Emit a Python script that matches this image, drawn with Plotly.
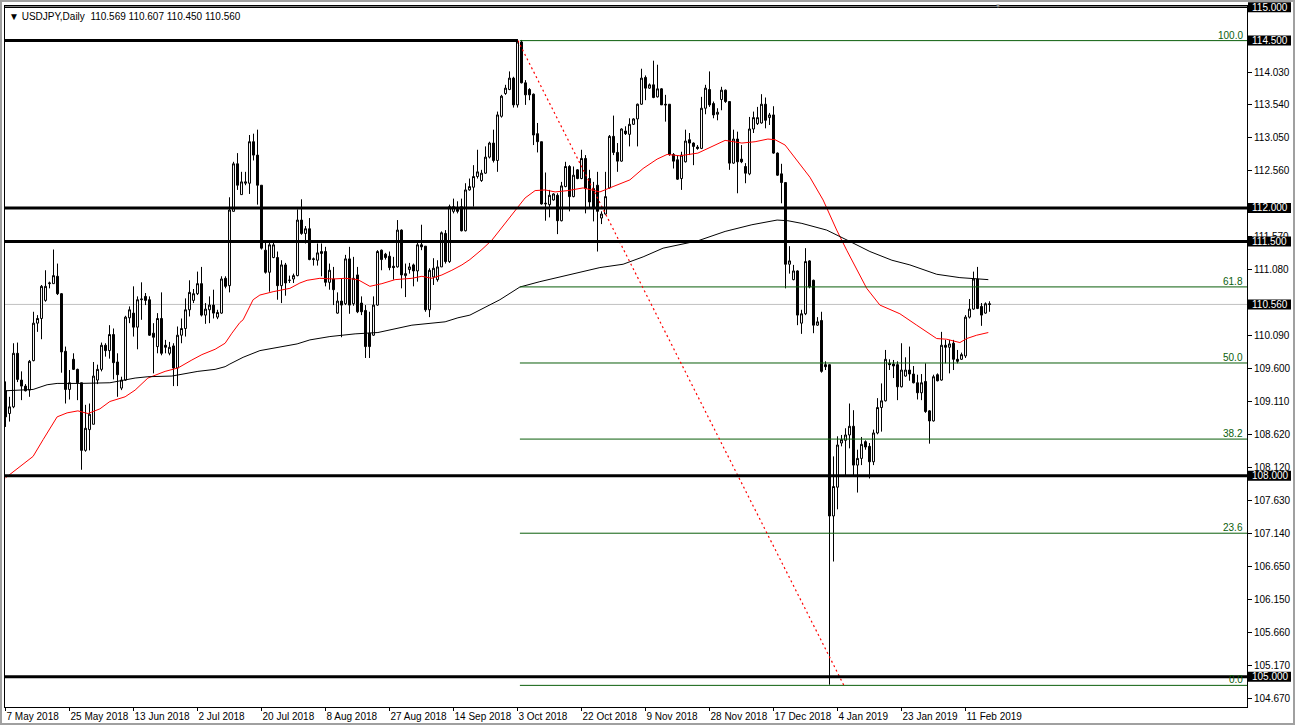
import plotly.graph_objects as go

# ---------------- data ----------------
bar_index = list(range(247))

opens = [109.27,108.93,109.03,109.83,109.43,109.34,109.28,109.72,110.28,110.35,
         110.62,110.87,110.87,110.98,110.72,109.86,109.29,109.74,109.59,109.39,
         108.38,108.69,108.77,109.43,109.59,109.95,109.87,110.11,109.70,109.31,
         109.43,110.36,110.43,110.22,110.63,110.68,110.63,110.13,109.93,110.35,
         109.95,109.83,109.94,109.61,110.10,110.20,110.48,110.62,110.72,110.87,
         110.40,110.48,110.55,110.37,110.43,110.95,110.84,111.95,112.66,112.20,
         112.37,112.37,112.99,112.79,112.34,111.37,111.04,111.26,111.26,110.84,
         111.15,110.92,110.94,110.99,111.82,111.62,111.69,111.23,111.22,111.32,
         111.35,110.89,110.94,110.43,110.61,110.57,111.24,110.57,111.00,110.58,
         110.47,110.13,110.10,110.55,111.37,111.31,111.28,111.13,111.12,111.67,
         110.99,111.08,111.15,111.06,111.45,111.43,110.48,110.97,110.93,111.12,
         111.62,111.20,111.95,111.98,112.02,111.66,112.27,112.31,112.47,112.41,
         112.52,112.76,112.97,112.71,113.37,113.71,113.77,113.94,113.54,114.48,
         113.87,113.77,113.70,113.11,112.99,112.06,112.05,112.12,112.19,111.81,
         112.32,112.62,112.17,112.57,112.44,112.74,112.44,112.29,112.34,111.85,
         111.91,112.30,113.07,112.83,112.70,113.15,113.10,113.25,113.33,113.55,
         113.95,113.79,113.84,113.66,113.78,113.55,113.55,112.80,112.72,112.44,
         112.69,113.02,112.97,112.91,112.89,113.49,113.77,113.56,113.40,113.62,
         113.76,113.59,112.67,113.03,112.73,112.62,112.51,113.18,113.26,113.27,
         113.55,113.35,113.39,112.82,112.51,112.38,111.16,110.93,111.06,110.28,
         110.42,111.21,110.92,110.25,110.32,109.66,109.66,107.40,107.83,108.49,
         108.53,108.61,108.74,108.16,108.26,108.51,108.44,108.21,108.64,109.02,
         109.12,109.68,109.67,109.66,109.33,109.49,109.58,109.52,109.39,109.24,
         109.41,108.97,108.82,109.51,109.43,109.95,109.92,109.98,109.74,109.74,
         109.79,110.37,110.49,110.94,110.53,110.43,110.569]
highs = [109.41,109.18,109.98,109.99,109.56,109.37,109.73,110.45,110.40,110.85,
         111.07,110.90,111.38,111.17,110.73,109.93,109.58,109.83,109.60,109.39,
         109.06,109.08,109.70,109.66,109.99,109.98,110.25,110.20,109.83,109.48,
         110.39,110.53,110.83,110.68,110.89,110.73,110.68,110.28,110.43,110.74,
         110.03,110.00,109.98,110.23,110.35,110.65,110.92,110.79,111.05,111.12,
         110.58,110.68,110.78,110.48,110.98,110.98,112.16,112.69,112.82,112.54,
         112.54,113.09,113.11,113.17,112.34,111.50,111.52,111.50,111.35,111.22,
         111.18,110.99,111.02,111.98,112.13,111.73,111.85,111.26,111.47,111.47,
         111.42,111.17,111.12,110.74,110.95,111.30,111.42,111.27,111.12,110.68,
         110.55,110.45,110.68,111.37,111.38,111.33,111.35,111.27,111.82,111.68,
         111.17,111.18,111.17,111.50,111.75,111.43,111.10,111.25,111.22,111.65,
         111.67,112.05,112.14,112.10,112.14,112.37,112.44,112.64,112.87,112.57,
         112.92,112.99,113.17,113.44,113.69,113.84,114.04,113.96,114.52,114.51,
         113.91,113.79,113.71,113.27,112.99,112.53,112.27,112.22,112.22,112.39,
         112.69,112.64,112.62,112.58,112.87,112.79,112.57,112.39,112.54,111.95,
         112.54,113.09,113.38,112.97,113.19,113.22,113.34,113.34,113.56,114.08,
         113.98,113.86,114.20,114.14,113.79,113.69,113.55,112.82,112.79,112.84,
         113.17,113.12,112.98,112.94,113.66,113.84,114.04,113.59,113.49,113.81,
         113.77,113.59,113.17,113.14,112.94,112.67,113.36,113.44,113.51,113.70,
         113.65,113.42,113.52,112.83,112.66,112.38,111.43,111.15,111.07,110.48,
         111.40,111.22,110.93,110.37,110.45,109.71,109.66,108.29,108.59,108.61,
         108.71,109.08,108.98,108.39,108.58,108.53,108.49,108.69,109.16,109.38,
         109.88,109.74,109.73,109.71,109.98,109.77,109.93,109.64,109.51,109.52,
         109.68,108.98,109.51,109.53,110.15,110.03,110.03,110.03,109.88,109.84,
         110.40,110.64,111.05,111.12,110.58,110.59,110.607]
lows = [108.73,108.81,109.01,109.40,109.13,109.26,109.18,109.71,110.15,110.04,
        110.60,110.80,110.87,110.70,109.54,109.08,109.14,109.58,109.13,108.09,
        108.36,108.38,108.77,109.37,109.56,109.78,109.75,109.44,109.18,109.28,
        109.42,110.28,110.08,109.89,110.33,110.55,110.09,109.53,109.83,109.80,
        109.83,109.80,109.34,109.34,109.98,110.08,110.38,110.58,110.70,110.38,
        110.27,110.28,110.35,110.34,110.42,110.80,110.74,111.95,112.27,112.20,
        112.34,112.21,112.71,112.05,111.38,111.02,110.75,111.25,110.63,110.58,
        110.69,110.88,110.88,110.98,111.60,111.47,111.22,111.14,111.14,110.98,
        110.83,110.78,110.55,110.42,110.07,110.55,110.42,110.54,110.43,110.40,
        109.76,109.76,110.09,110.54,111.07,111.23,111.07,110.93,111.11,110.80,
        110.67,111.02,110.83,110.90,111.37,110.45,110.37,110.85,110.90,111.12,
        111.17,111.18,111.92,111.92,111.65,111.65,112.26,112.02,112.44,112.39,
        112.51,112.74,112.68,112.54,113.35,113.69,113.76,113.50,113.50,113.86,
        113.54,113.61,112.94,112.83,112.05,111.81,111.86,112.11,111.61,111.80,
        112.31,111.95,112.16,112.43,112.43,111.92,111.99,111.80,111.35,111.76,
        111.90,112.29,112.79,112.54,112.69,113.09,112.92,113.24,112.92,113.54,
        113.61,113.78,113.64,113.65,113.54,113.29,112.78,112.59,112.42,112.27,
        112.68,112.79,112.64,112.87,112.88,113.40,113.51,113.34,113.31,113.46,
        113.57,112.57,112.66,112.22,112.67,112.37,112.49,113.12,113.24,113.26,
        113.19,113.24,112.81,112.48,112.07,110.80,111.02,110.92,110.25,110.12,
        110.40,110.80,110.13,110.24,109.54,109.58,104.88,106.72,107.50,108.44,
        108.01,108.41,107.99,107.75,108.16,108.39,107.96,108.16,108.62,108.66,
        109.11,109.58,109.46,109.13,109.32,109.48,109.42,109.38,109.14,109.13,
        108.94,108.48,108.81,109.41,109.42,109.68,109.53,109.58,109.68,109.73,
        109.76,110.35,110.48,110.49,110.24,110.42,110.450]
closes = [108.88,109.03,109.83,109.44,109.34,109.27,109.71,110.28,110.35,110.83,
          110.83,110.88,110.99,110.72,109.85,109.29,109.39,109.59,109.39,108.38,
          108.71,108.92,109.49,109.59,109.95,109.87,110.11,109.69,109.51,109.43,
          110.37,110.48,110.22,110.63,110.64,110.62,110.10,110.07,110.35,109.83,
          109.92,109.92,109.61,110.10,110.20,110.48,110.74,110.72,110.87,110.40,
          110.49,110.55,110.43,110.44,110.94,110.83,111.97,112.66,112.34,112.39,
          112.39,112.99,112.79,112.34,111.40,111.04,111.45,111.45,110.84,111.15,
          110.88,110.92,110.99,111.82,111.62,111.69,111.23,111.24,111.33,111.35,
          110.89,111.07,110.78,110.61,110.55,111.24,110.55,110.95,110.45,110.45,
          109.93,109.93,110.55,111.35,111.23,111.26,111.11,111.11,111.67,111.00,
          111.02,111.12,111.06,111.45,111.42,110.48,111.07,111.10,111.12,111.63,
          111.20,112.02,112.02,111.95,111.66,112.27,112.32,112.47,112.54,112.52,
          112.76,112.97,112.71,113.39,113.67,113.79,113.94,113.54,114.48,113.87,
          113.69,113.69,113.09,112.99,112.06,112.07,112.19,112.21,111.81,112.33,
          112.62,112.17,112.49,112.44,112.74,112.29,112.09,111.99,111.95,111.91,
          112.17,113.07,112.83,112.70,113.18,113.11,113.25,113.33,113.55,113.94,
          113.79,113.84,113.65,113.78,113.54,113.54,112.80,112.70,112.43,112.79,
          113.00,112.97,112.92,112.89,113.49,113.79,113.54,113.39,113.43,113.76,
          113.59,112.67,113.03,112.69,112.69,112.52,113.18,113.35,113.35,113.55,
          113.31,113.39,112.82,112.49,112.38,111.16,111.21,111.06,110.40,110.42,
          111.20,110.82,110.25,110.30,109.56,109.63,107.40,107.84,108.46,108.54,
          108.61,108.74,108.16,108.26,108.47,108.43,108.21,108.64,109.02,109.12,
          109.74,109.66,109.64,109.33,109.58,109.58,109.52,109.39,109.24,109.39,
          108.96,108.82,109.48,109.42,109.95,109.92,109.97,109.74,109.71,109.81,
          110.37,110.49,110.94,110.50,110.40,110.57,110.560]

tick_bars = [0, 16, 32, 48, 64, 80, 96, 112, 128, 144, 160, 176, 192, 208, 224, 240]
tick_labels = ["7 May 2018", "25 May 2018", "13 Jun 2018", "2 Jul 2018", "20 Jul 2018",
               "8 Aug 2018", "27 Aug 2018", "14 Sep 2018", "3 Oct 2018", "22 Oct 2018",
               "9 Nov 2018", "28 Nov 2018", "17 Dec 2018", "4 Jan 2019", "23 Jan 2019",
               "11 Feb 2019"]

ma50_bar = [0, 1.5, 6.9, 9.4, 12.9, 15.4, 18.1, 20.6, 23.6, 26.1, 29.9, 32.4, 35.6, 39.9,
            43.1, 46.6, 49.1, 52.4, 54.9, 56.6, 58.6, 59.4, 61.9, 63.6, 66.9, 71.1, 73.6,
            75.4, 78.6, 81.9, 84.9, 88.1, 91.1, 94.1, 97.4, 101.6, 104.1, 106.6, 109.1,
            111.6, 114.1, 116.1, 119.1, 121.6, 124.9, 127.4, 129.9, 132.4, 134.9, 137.4,
            140.6, 144.4, 148.6, 151.9, 156.1, 159.4, 162.9, 165.4, 168.6, 173.1, 176.6,
            179.9, 184.1, 187.4, 190.6, 192.4, 194.9, 197.4, 201.1, 204.4, 207.8, 210.3,
            213.6, 215.3, 218.6, 223.6, 227.8, 230.3, 232.8, 235.3, 238.6, 240.3, 242.8,
            245.7]
ma50_val = [107.97, 108.04, 108.29, 108.54, 108.88, 108.94, 108.97, 108.93, 109.00, 109.11,
            109.18, 109.28, 109.46, 109.56, 109.61, 109.73, 109.81, 109.89, 109.98, 110.13,
            110.29, 110.33, 110.63, 110.70, 110.75, 110.80, 110.88, 110.92, 110.95, 110.94,
            110.95, 110.93, 110.83, 110.87, 110.93, 110.95, 110.98, 110.95, 111.00, 111.07,
            111.15, 111.23, 111.38, 111.52, 111.77, 111.97, 112.15, 112.26, 112.27, 112.24,
            112.26, 112.30, 112.24, 112.32, 112.42, 112.59, 112.73, 112.80, 112.78, 112.82,
            112.92, 113.01, 112.97, 112.99, 113.03, 113.02, 112.94, 112.74, 112.46, 112.12,
            111.67, 111.37, 110.98, 110.80, 110.55, 110.42, 110.25, 110.15, 110.05, 110.04,
            109.99, 110.05, 110.10, 110.14]

ma200_bar = [0, 3.6, 6.9, 10.4, 12.9, 18.6, 22.9, 26.1, 32.4, 35.6, 41.6, 44.9, 48.1, 52.4,
             54.9, 56.1, 59.4, 63.6, 68.6, 72.9, 76.1, 81.1, 87.4, 93.1, 101.6, 109.9, 113.1,
             116.1, 123.6, 128.6, 133.6, 138.6, 143.6, 148.6, 154.4, 159.4, 164.4, 170.4,
             173.1, 179.9, 186.6, 192.9, 195.6, 199.1, 205.3, 211.1, 216.1, 221.6, 226.1,
             232.8, 238.6, 245.7]
ma200_val = [109.27, 109.28, 109.29, 109.36, 109.38, 109.38, 109.38, 109.39, 109.46, 109.48,
             109.49, 109.53, 109.56, 109.59, 109.63, 109.67, 109.77, 109.87, 109.92, 109.97,
             110.03, 110.08, 110.12, 110.14, 110.25, 110.30, 110.36, 110.40, 110.63, 110.82,
             110.90, 110.97, 111.05, 111.11, 111.16, 111.27, 111.40, 111.47, 111.51, 111.65,
             111.75, 111.82, 111.81, 111.77, 111.67, 111.50, 111.35, 111.22, 111.15, 111.01,
             110.96, 110.93]

full_levels = [112.0, 111.5, 108.0, 105.0]
high_level = 114.5
high_level_end_bar = 128.1
top_level = 115.0
current_price = 110.560

fib_high = 114.50
fib_low = 104.87
fib_start_bar = 128.6
fib_trend_bars = [128.1, 209.6]
fib_ratios = [0.0, 23.6, 38.2, 50.0, 61.8, 100.0]

axis_ticks = [114.03, 113.54, 113.05, 112.56, 111.57, 111.08, 110.09,
              109.60, 109.11, 108.62, 108.12, 107.63, 107.14, 106.65, 106.15, 105.66,
              105.17, 104.67]
boxed_labels = [115.0, 114.5, 112.0, 111.5, 110.56, 108.0, 105.0]

header = "USDJPY,Daily  110.569 110.607 110.450 110.560"

# ---------------- figure ----------------
X_MIN, X_MAX = -0.125, 310.375
Y_MIN, Y_MAX = 104.547, 115.017
FONT = "Liberation Sans, Arial, sans-serif"
FIB_GREEN = "#0b5e0b"

fig = go.Figure()

fig.add_trace(go.Candlestick(
    x=bar_index, open=opens, high=highs, low=lows, close=closes,
    increasing=dict(line=dict(color="black", width=1), fillcolor="white"),
    decreasing=dict(line=dict(color="black", width=1), fillcolor="black"),
    whiskerwidth=0, hoverinfo="skip", showlegend=False,
))
fig.add_trace(go.Scatter(x=ma50_bar, y=ma50_val, mode="lines",
                         line=dict(color="#ff0000", width=1), hoverinfo="skip", showlegend=False))
fig.add_trace(go.Scatter(x=ma200_bar, y=ma200_val, mode="lines",
                         line=dict(color="black", width=1), hoverinfo="skip", showlegend=False))

shapes = []
shapes.append(dict(type="line", xref="x", yref="y", x0=X_MIN, x1=X_MAX,
                   y0=current_price, y1=current_price, layer="below",
                   line=dict(color="#c0c0c0", width=1)))
shapes.append(dict(type="line", xref="x", yref="y", x0=X_MIN, x1=X_MAX,
                   y0=top_level, y1=top_level, line=dict(color="black", width=1.5)))
for r in fib_ratios:
    p = fib_low + (fib_high - fib_low) * r / 100.0
    shapes.append(dict(type="line", xref="x", yref="y", x0=fib_start_bar, x1=X_MAX,
                       y0=p, y1=p, line=dict(color=FIB_GREEN, width=1)))
shapes.append(dict(type="line", xref="x", yref="y", x0=fib_trend_bars[0], x1=fib_trend_bars[1],
                   y0=fib_high, y1=fib_low, line=dict(color="#ff0000", width=1.2, dash="2px,3px")))
for p in full_levels:
    shapes.append(dict(type="line", xref="x", yref="y", x0=X_MIN, x1=X_MAX,
                       y0=p, y1=p, line=dict(color="black", width=3)))
shapes.append(dict(type="line", xref="x", yref="y", x0=X_MIN, x1=high_level_end_bar,
                   y0=high_level, y1=high_level, line=dict(color="black", width=3)))

# boxed price labels on the right axis (paper coordinates so they are not clipped)
PLOT_H = 701.0
x_box0 = (1248 - 5) / 1242.0
x_box1 = (1291 - 5) / 1242.0
for p in boxed_labels:
    yc = (p - Y_MIN) / (Y_MAX - Y_MIN)
    shapes.append(dict(type="rect", xref="paper", yref="paper", x0=x_box0, x1=x_box1,
                       y0=yc - 5 / PLOT_H, y1=yc + 5 / PLOT_H, fillcolor="black",
                       line=dict(width=0), layer="above"))
shapes.append(dict(type="rect", xref="paper", yref="paper",
                   x0=(1 - 5) / 1242.0, x1=(1294 - 5) / 1242.0,
                   y0=(707 - 724) / PLOT_H, y1=(707 - 1) / PLOT_H,
                   line=dict(color="#a0a0a0", width=2)))

annotations = []
for p in boxed_labels:
    yc = (p - Y_MIN) / (Y_MAX - Y_MIN)
    annotations.append(dict(xref="paper", yref="paper", x=x_box0, y=yc, xanchor="left",
                            yanchor="middle", xshift=2, text=f"{p:.3f}", showarrow=False,
                            font=dict(family=FONT, size=10, color="white")))
for r in fib_ratios:
    p = fib_low + (fib_high - fib_low) * r / 100.0
    annotations.append(dict(xref="paper", yref="y", x=1, y=p, xanchor="right",
                            yanchor="bottom", xshift=-2, yshift=-2, text=f"{r:.1f}",
                            showarrow=False, font=dict(family=FONT, size=10, color=FIB_GREEN)))
annotations.append(dict(xref="paper", yref="paper", x=0, y=1, xanchor="left", yanchor="top",
                        xshift=2, yshift=-3, text="▼ " + header, showarrow=False,
                        font=dict(family=FONT, size=10, color="black")))
annotations.append(dict(xref="x", yref="paper", x=248, y=1, xanchor="center", yanchor="middle",
                        text="▼", showarrow=False, font=dict(family=FONT, size=6, color="#909090")))

fig.update_layout(
    width=1295, height=725,
    margin=dict(l=5, r=48, t=6, b=18, autoexpand=False),
    paper_bgcolor="white", plot_bgcolor="white",
    showlegend=False, hovermode=False,
    shapes=shapes, annotations=annotations,
    xaxis=dict(range=[X_MIN, X_MAX], rangeslider=dict(visible=False), showgrid=False,
               zeroline=False, tickmode="array", tickvals=tick_bars, ticktext=tick_labels,
               ticks="outside", ticklen=3, tickcolor="black", ticklabelposition="outside right",
               tickangle=0, automargin=False,
               tickfont=dict(family=FONT, size=10, color="black"),
               showline=True, linecolor="black", linewidth=1, mirror=True),
    yaxis=dict(range=[Y_MIN, Y_MAX], side="right", showgrid=False, zeroline=False,
               tickmode="array", tickvals=axis_ticks, ticktext=[f"{v:.3f}" for v in axis_ticks],
               ticks="outside", ticklen=4, tickcolor="black", automargin=False,
               tickfont=dict(family=FONT, size=10, color="black"),
               showline=True, linecolor="black", linewidth=1, mirror=True),
    font=dict(family=FONT, size=10, color="black"),
)

fig.write_html("out.html", config={"displayModeBar": False},
               post_script="document.body.style.margin='0px';document.body.style.overflow='hidden';")
